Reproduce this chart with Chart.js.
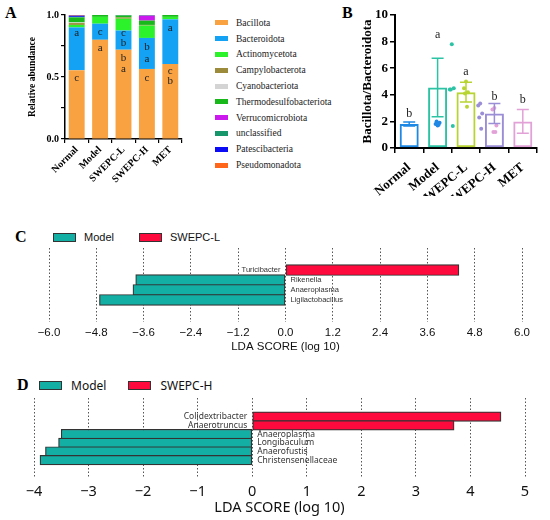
<!DOCTYPE html>
<html>
<head>
<meta charset="utf-8">
<script src="https://cdn.jsdelivr.net/npm/chart.js@4.4.1/dist/chart.umd.min.js"></script>
<style>
  body { margin: 0; background: #fff; width: 550px; height: 520px; position: relative; overflow: hidden; }
  canvas { position: absolute; }
  .panel { position: absolute; font: bold 16px "Liberation Serif"; line-height: 18px; color: #000; }
  .legA { position: absolute; left: 215px; top: 15px; font: 9.5px "Liberation Serif"; color: #222; }
  .legA .row { display: flex; align-items: center; height: 15.8px; }
  .legA .sw { width: 13px; height: 5px; margin-right: 8px; }
  .legLda { position: absolute; display: flex; align-items: center; color: #111; }
  .legLda .sw { width: 21px; height: 7px; border: 1px solid #333; }
</style>
</head>
<body>
<div class="panel" style="left:5px;top:4px">A</div>
<div class="panel" style="left:342px;top:4px">B</div>
<div class="panel" style="left:15px;top:228px">C</div>
<div class="panel" style="left:17px;top:376px">D</div>

<canvas id="chartA" width="190" height="195" style="left:0;top:0"></canvas>
<div class="legA" id="legendA"></div>
<canvas id="chartB" width="210" height="196" style="left:340px;top:0"></canvas>

<div class="legLda" id="legendC" style="left:53px;top:229px;font:11px 'Liberation Sans';height:16px"></div>
<canvas id="chartC" width="550" height="130" style="left:0;top:225px"></canvas>

<div class="legLda" id="legendD" style="left:39px;top:377px;font:12px 'Noto Sans';height:16px"></div>
<canvas id="chartD" width="550" height="150" style="left:0;top:370px"></canvas>

<script>
// Grupos
const groups = ['Normal', 'Model', 'SWEPC-L', 'SWEPC-H', 'MET'];

// A - abundancia relativa por filo
const phyla = ['Bacillota', 'Bacteroidota', 'Actinomycetota', 'Campylobacterota', 'Cyanobacteriota',
  'Thermodesulfobacteriota', 'Verrucomicrobiota', 'unclassified', 'Patescibacteria', 'Pseudomonadota'];
const bacillota = [0.555, 0.80, 0.72, 0.565, 0.605];
const bacteroidota = [0.345, 0.13, 0.155, 0.25, 0.36];
const actinomycetota = [0.02, 0.055, 0.095, 0.10, 0.02];
const campylobacterota = [0.015, 0, 0.01, 0.005, 0];
const cyanobacteriota = [0.005, 0, 0, 0, 0];
const thermodesulfobacteriota = [0.04, 0.015, 0.015, 0.035, 0.015];
const verrucomicrobiota = [0, 0, 0, 0.04, 0];
const unclassified = [0.005, 0, 0.005, 0.005, 0];
const patescibacteria = [0.01, 0, 0, 0, 0];
const pseudomonadota = [0.005, 0, 0, 0, 0];
const phylaColors = ['#F9A242', '#14A2F5', '#2CF22C', '#9B8B3A', '#D4D4D4',
  '#18B81B', '#CC1AEE', '#17956B', '#0B0BF5', '#FF6619'];
// letras de significancia (A) e a altura (em abundancia) onde ficam
const lettersA = [['a', 'c'], ['c', 'a'], ['c', 'b', 'b', 'a'], ['b', 'a', 'c'], ['a', 'c', 'b']];
const letterPosA = [[0.855, 0.49], [0.863, 0.734], [0.855, 0.774, 0.653, 0.565], [0.742, 0.645, 0.49], [0.895, 0.548, 0.468]];

// B - razao Bacillota/Bacteroidota
const ratioMean = [1.8, 4.55, 4.2, 2.6, 2.0];
const ratioSD = [0.15, 2.2, 0.75, 0.75, 0.9];
const ratioDots = [
  [1.7, 1.8, 1.9, 2.0, 1.75],
  [7.8, 4.4, 4.5, 4.4, 1.65],
  [5.0, 4.5, 4.2, 4.1, 3.1],
  [3.35, 3.2, 2.6, 2.3, 1.45],
  [3.0, 2.9, 1.7, 1.2, 1.2]
];
const groupColors = ['#1E88E5', '#2CC3A5', '#B8D432', '#9B8ED6', '#E2A2D8'];
const lettersB = ['b', 'a', 'a', 'b', 'b'];
const letterPosB = [2.6, 8.5, 5.7, 3.85, 3.6];

// C e D - LEfSe
const cTaxa = ['Turicibacter', 'Rikenella', 'Anaeroplasma', 'Ligilactobacillus'];
const cScores = [4.4, -3.8, -3.87, -4.72];
const cGroups = ['Model', 'SWEPC-L'];
const dTaxa = ['Colidextribacter', 'Anaerotruncus', 'Anaeroplasma', 'Longibaculum', 'Anaerofustis', 'Christensenellaceae'];
const dScores = [4.56, 3.7, -3.5, -3.55, -3.79, -3.89];
const dGroups = ['Model', 'SWEPC-H'];
const ldaColors = ['#14AFA4', '#FF0A3D'];

const abundance = [bacillota, bacteroidota, actinomycetota, campylobacterota, cyanobacteriota,
  thermodesulfobacteriota, verrucomicrobiota, unclassified, patescibacteria, pseudomonadota];

const serifBold = size => ({ family: 'Liberation Serif', weight: 'bold', size: size });
const axisCommon = { color: '#000', width: 1.5 };

// legenda do painel A
const legA = document.getElementById('legendA');
phyla.forEach((p, k) => {
  const row = document.createElement('div');
  row.className = 'row';
  row.innerHTML = '<span class="sw" style="background:' + phylaColors[k] + '"></span><span>' + p + '</span>';
  legA.appendChild(row);
});

// legendas C e D
function ldaLegend(id, names, gap, textGap) {
  const el = document.getElementById(id);
  names.forEach((n, k) => {
    const sw = document.createElement('span');
    sw.className = 'sw';
    sw.style.background = ldaColors[k];
    sw.style.marginRight = textGap + 'px';
    const t = document.createElement('span');
    t.textContent = n;
    t.style.marginRight = gap + 'px';
    el.appendChild(sw);
    el.appendChild(t);
  });
}
ldaLegend('legendC', cGroups, 25, 8);
ldaLegend('legendD', dGroups, 22, 9);

// ---------- A ----------
const lettersPluginA = {
  id: 'lettersA',
  afterDatasetsDraw(chart) {
    const { ctx, scales: { x, y } } = chart;
    ctx.save();
    ctx.font = '11px "Liberation Serif"';
    ctx.fillStyle = '#222';
    ctx.textAlign = 'center';
    ctx.textBaseline = 'middle';
    lettersA.forEach((ls, i) => ls.forEach((l, j) => {
      ctx.fillText(l, x.getPixelForValue(i), y.getPixelForValue(letterPosA[i][j]));
    }));
    ctx.restore();
  }
};

new Chart(document.getElementById('chartA'), {
  type: 'bar',
  data: {
    labels: groups,
    datasets: phyla.map((p, k) => ({
      label: p,
      data: abundance[k],
      backgroundColor: phylaColors[k],
      barPercentage: 0.68,
      categoryPercentage: 1
    }))
  },
  options: {
    responsive: false,
    animation: false,
    layout: { padding: { top: 15, right: 8 } },
    plugins: { legend: { display: false }, tooltip: { enabled: false } },
    scales: {
      x: {
        stacked: true,
        grid: { drawOnChartArea: false, color: '#000', tickLength: 4, lineWidth: 1.2 },
        border: axisCommon,
        ticks: { color: '#000', font: serifBold(10), minRotation: 45, maxRotation: 45, padding: 1, autoSkip: false },
        afterFit: s => { s.height = 56; }
      },
      y: {
        stacked: true,
        min: 0,
        max: 1,
        ticks: {
          stepSize: 0.25,
          color: '#000',
          font: serifBold(10),
          padding: 2,
          callback: v => (v % 0.5 === 0 ? v.toFixed(1) : '')
        },
        grid: { drawOnChartArea: false, color: '#000', tickLength: 4, lineWidth: 1.2 },
        border: axisCommon,
        title: { display: true, text: 'Relative abundance', color: '#000', font: serifBold(9.5), padding: { top: 27 } },
        afterFit: s => { s.width = 65; }
      }
    }
  },
  plugins: [lettersPluginA]
});

// ---------- B ----------
const spread = [0, -0.14, 0.14, -0.07, 0.07];
const dotPoints = [];
const dotColors = [];
ratioDots.forEach((vals, i) => vals.forEach((v, j) => {
  dotPoints.push({ x: i + spread[j], y: v });
  dotColors.push(groupColors[i]);
}));

const errorBarPlugin = {
  id: 'errorBars',
  afterDatasetsDraw(chart) {
    const { ctx, scales: { x, y } } = chart;
    ctx.save();
    ctx.lineWidth = 1.5;
    ratioMean.forEach((m, i) => {
      const cx = x.getPixelForValue(i);
      const top = y.getPixelForValue(m + ratioSD[i]);
      const bot = y.getPixelForValue(m - ratioSD[i]);
      ctx.strokeStyle = groupColors[i];
      ctx.beginPath();
      ctx.moveTo(cx, top); ctx.lineTo(cx, bot);
      ctx.moveTo(cx - 6, top); ctx.lineTo(cx + 6, top);
      ctx.moveTo(cx - 6, bot); ctx.lineTo(cx + 6, bot);
      ctx.stroke();
    });
    ctx.font = '12px "Liberation Serif"';
    ctx.fillStyle = '#222';
    ctx.textAlign = 'center';
    ctx.textBaseline = 'middle';
    lettersB.forEach((l, i) => ctx.fillText(l, x.getPixelForValue(i), y.getPixelForValue(letterPosB[i])));
    ctx.restore();
  }
};

new Chart(document.getElementById('chartB'), {
  type: 'bar',
  data: {
    labels: groups,
    datasets: [{
      type: 'scatter',
      data: dotPoints,
      xAxisID: 'xj',
      pointBackgroundColor: dotColors,
      pointBorderWidth: 0,
      pointRadius: 2
    }, {
      data: ratioMean,
      backgroundColor: 'rgba(255,255,255,0)',
      borderColor: groupColors,
      borderWidth: 2,
      borderSkipped: false,
      grouped: false,
      barPercentage: 0.67,
      categoryPercentage: 1
    }]
  },
  options: {
    responsive: false,
    animation: false,
    layout: { padding: { top: 15, right: 13 } },
    plugins: { legend: { display: false }, tooltip: { enabled: false } },
    scales: {
      x: {
        grid: { drawOnChartArea: false, color: '#000', tickLength: 5, lineWidth: 1.5 },
        border: { color: '#000', width: 2 },
        ticks: { color: '#000', font: serifBold(13), minRotation: 40, maxRotation: 40, padding: 7, autoSkip: false },
        afterFit: s => { s.height = 48; }
      },
      xj: { type: 'linear', display: false, min: -0.5, max: 4.5 },
      y: {
        min: 0,
        max: 10,
        ticks: { stepSize: 2, color: '#000', font: serifBold(13), padding: 2 },
        grid: { drawOnChartArea: false, color: '#000', tickLength: 5, lineWidth: 1.5 },
        border: { color: '#000', width: 2 },
        title: { display: true, text: 'Bacillota/Bacteroidota', color: '#000', font: serifBold(13), padding: { top: 20 } },
        afterFit: s => { s.width = 55; }
      }
    }
  },
  plugins: [errorBarPlugin]
});

// ---------- C e D ----------
function ldaChart(id, taxa, scores, cfg) {
  const labelPlugin = {
    id: 'taxaLabels',
    afterDatasetsDraw(chart) {
      const { ctx, scales: { x, y } } = chart;
      const zero = x.getPixelForValue(0);
      ctx.save();
      ctx.font = cfg.labelFont;
      ctx.fillStyle = '#333';
      ctx.textBaseline = 'middle';
      taxa.forEach((t, i) => {
        const py = y.getPixelForValue(i);
        if (scores[i] > 0) {
          ctx.textAlign = 'right';
          ctx.fillText(t, zero - 5, py);
        } else {
          ctx.textAlign = 'left';
          ctx.fillText(t, zero + 5, py);
        }
      });
      ctx.restore();
    }
  };

  new Chart(document.getElementById(id), {
    type: 'bar',
    data: {
      datasets: [{
        data: scores.map((s, i) => ({ x: s, y: i })),
        backgroundColor: scores.map(s => (s > 0 ? ldaColors[1] : ldaColors[0])),
        borderColor: '#333',
        borderWidth: 1.2,
        borderSkipped: false,
        barThickness: cfg.barThickness
      }]
    },
    options: {
      indexAxis: 'y',
      responsive: false,
      animation: false,
      layout: { padding: cfg.padding },
      plugins: { legend: { display: false }, tooltip: { enabled: false } },
      scales: {
        y: { type: 'linear', display: false, reverse: true, min: cfg.yMin, max: cfg.yMax },
        x: {
          type: 'linear',
          min: cfg.xMin,
          max: cfg.xMax,
          ticks: {
            stepSize: cfg.step,
            color: '#111',
            font: cfg.tickFont,
            padding: cfg.tickPad,
            callback: cfg.fmt
          },
          grid: { color: '#555', lineWidth: 1, drawTicks: false },
          border: { display: false, dash: [1.5, 2] },
          title: { display: true, text: 'LDA SCORE (log 10)', color: '#111', font: cfg.tickFont, padding: { top: 0, bottom: cfg.titlePad } },
          afterFit: s => { s.height = cfg.axisHeight; }
        }
      }
    },
    plugins: [labelPlugin]
  });
}

ldaChart('chartC', cTaxa, cScores, {
  padding: { top: 23, left: 49, right: 28 },
  yMin: -0.97, yMax: 3.97, barThickness: 11,
  xMin: -6, xMax: 6, step: 1.2,
  fmt: v => (Math.abs(v) < 1e-9 ? '0.0' : v.toFixed(1).replace('-', '\u2212')),
  tickFont: { family: 'Liberation Sans', size: 11.5 },
  tickPad: 4, titlePad: 1, axisHeight: 33,
  labelFont: '7.5px "Liberation Sans"'
});

ldaChart('chartD', dTaxa, dScores, {
  padding: { top: 28, left: 34, right: 25 },
  yMin: -1.0, yMax: 5.9, barThickness: 9.5,
  xMin: -4, xMax: 5, step: 1,
  fmt: v => String(v).replace('-', '\u2212'),
  tickFont: { family: 'Noto Sans', size: 14.5 },
  tickPad: 5, titlePad: 3, axisHeight: 42,
  labelFont: '8.5px "Noto Sans"'
});
</script>
</body>
</html>
